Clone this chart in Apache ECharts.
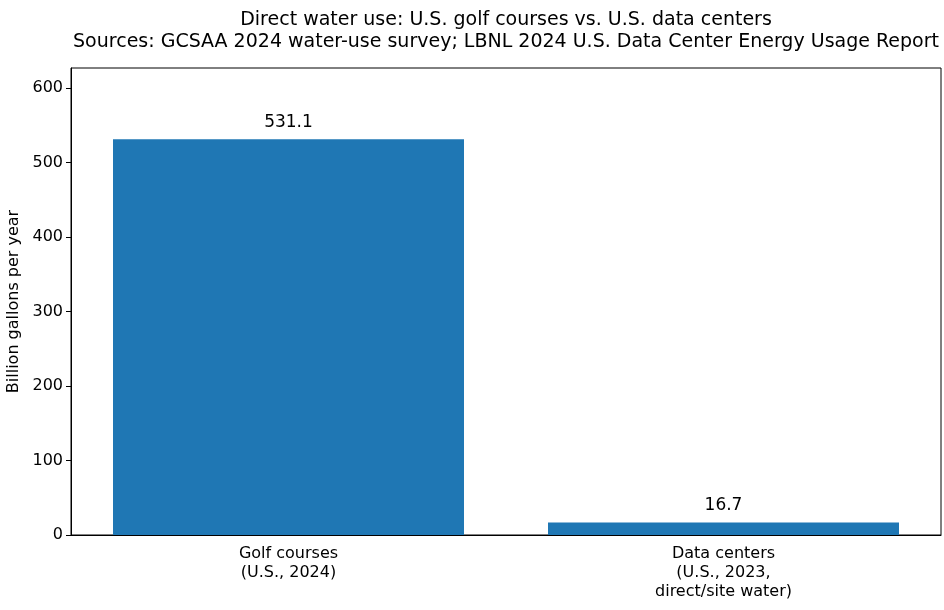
<!DOCTYPE html>
<html>
<head>
<meta charset="utf-8">
<script src="https://cdn.jsdelivr.net/npm/echarts@6/dist/echarts.min.js"></script>
<style>
  html, body { margin: 0; padding: 0; background: #fff; }
  #main { width: 944px; height: 610px; }
</style>
</head>
<body>
<div id="main"></div>
<script>
// 数据
var categories = ['Golf courses\n(U.S., 2024)', 'Data centers\n(U.S., 2023,\ndirect/site water)'];
var values = [531.1, 16.7];
var yTicks = [0, 100, 200, 300, 400, 500, 600];

var chart = echarts.init(document.getElementById('main'));
var font = 'DejaVu Sans';

var option = {
  animation: false,
  textStyle: { fontFamily: font },
  title: {
    text: 'Direct water use: U.S. golf courses vs. U.S. data centers\nSources: GCSAA 2024 water-use survey; LBNL 2024 U.S. Data Center Energy Usage Report',
    left: 501,
    textAlign: 'center',
    top: 4,
    textStyle: { fontFamily: font, fontSize: 19, fontWeight: 'normal', color: '#000', lineHeight: 22 }
  },
  grid: {
    left: 71, right: 3, top: 68, bottom: 75,
    containLabel: false,
    outerBoundsMode: 'none',
    show: true, borderColor: '#000', borderWidth: 1
  },
  xAxis: {
    type: 'category',
    data: categories,
    axisLine: { lineStyle: { color: '#000', width: 1 } },
    axisTick: { alignWithLabel: true, length: 5, lineStyle: { color: '#000' } },
    axisLabel: { color: '#000', fontSize: 16, lineHeight: 19, margin: 9, fontFamily: font }
  },
  yAxis: {
    type: 'value',
    min: 0,
    max: 626.7,
    interval: 100,
    name: 'Billion gallons per year',
    nameLocation: 'middle',
    nameGap: 49,
    nameTextStyle: { color: '#000', fontSize: 16, fontFamily: font },
    axisLine: { show: true, lineStyle: { color: '#000', width: 1 } },
    axisTick: { show: true, length: 5, lineStyle: { color: '#000' } },
    axisLabel: {
      color: '#000', fontSize: 16, margin: 8, fontFamily: font,
      showMaxLabel: false,
      formatter: function (v) { return yTicks.indexOf(v) >= 0 ? String(v) : ''; }
    },
    splitLine: { show: false }
  },
  series: [{
    type: 'bar',
    data: values,
    barWidth: 351,
    itemStyle: { color: '#1f77b4' },
    label: {
      show: true,
      position: 'top',
      distance: 8,
      color: '#000',
      fontSize: 17,
      fontFamily: font,
      formatter: function (p) { return p.value.toFixed(1); }
    }
  }]
};

chart.setOption(option);
</script>
</body>
</html>
